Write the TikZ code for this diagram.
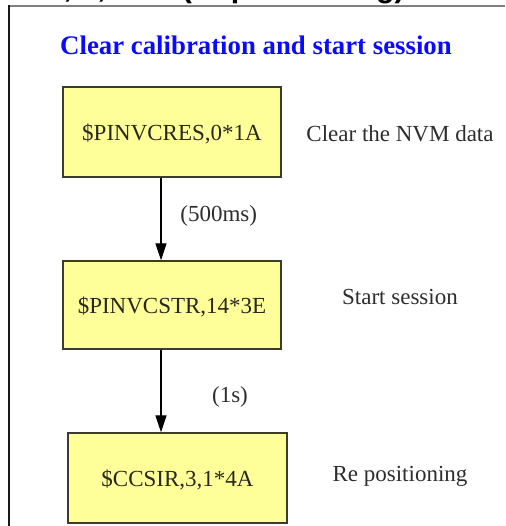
\documentclass[tikz,border=0pt]{standalone}
\usepackage{fontspec}
\setmainfont{Liberation Serif}
\newfontfamily\headsans{Liberation Sans}
\usetikzlibrary{arrows.meta}
\definecolor{boxfill}{RGB}{255,255,153}
\definecolor{boxline}{RGB}{60,60,45}
\definecolor{boxtext}{RGB}{40,40,30}
\definecolor{labtext}{RGB}{45,45,45}
\definecolor{titleblue}{RGB}{10,10,255}
\definecolor{framegray}{RGB}{128,128,128}
\tikzset{
  cmdbox/.style={draw=boxline, fill=boxfill, line width=1.4pt, minimum width=218pt,
    minimum height=89pt, inner sep=0pt, text depth=0pt, text=boxtext, font=\fontsize{23}{26}\selectfont},
  sidelabel/.style={anchor=base, inner sep=0pt, text=labtext, font=\fontsize{23}{26}\selectfont},
  flowarrow/.style={line width=1.2pt, -{Triangle[length=17pt,width=11pt]}},
}
\begin{document}
\begin{tikzpicture}[x=1pt,y=-1pt]
\useasboundingbox (0,0) rectangle (505,526);
% clipped heading fragment above the frame
\begin{scope}
\clip (0,0) rectangle (505,526);
\node[anchor=base east, inner sep=0pt, font=\headsans\bfseries\fontsize{30.4}{34}\selectfont] (head) at (405,-2.6) {\$CCSIR, 3,1*4A (Repositioning)};
\end{scope}
% frame
\draw[framegray, line width=2pt] (8,6) -- (505,6);
\draw[black!90, line width=2pt] (8.5,5) -- (8.5,526);
% title
\node[anchor=base, inner sep=0pt, text=titleblue, font=\bfseries\fontsize{26.8}{30}\selectfont] (title) at (256,55) {Clear calibration and start session};
% boxes
\node[cmdbox, minimum height=90pt] (b1) at (172,132) {\$PINVCRES,0*1A};
\node[cmdbox, minimum height=88pt] (b2) at (172,305) {\$PINVCSTR,14*3E};
\node[cmdbox, minimum width=219pt, minimum height=90pt] (b3) at (177.5,478) {\$CCSIR,3,1*4A};
% side labels
\node[sidelabel] (l1) at (400,141.7) {Clear the NVM data};
\node[sidelabel] (l2) at (400,304) {Start session};
\node[sidelabel] (l3) at (400,481.7) {Re positioning};
% arrows
\coordinate (ax) at (161,0);
\draw[flowarrow] (b1.south -| ax) -- (b2.north -| ax);
\draw[flowarrow] (b2.south -| ax) -- (b3.north -| ax);
\node[sidelabel] (d1) at (218.7,221.7) {(500ms)};
\node[sidelabel] (d2) at (230,402.7) {(1s)};
\end{tikzpicture}
\end{document}
